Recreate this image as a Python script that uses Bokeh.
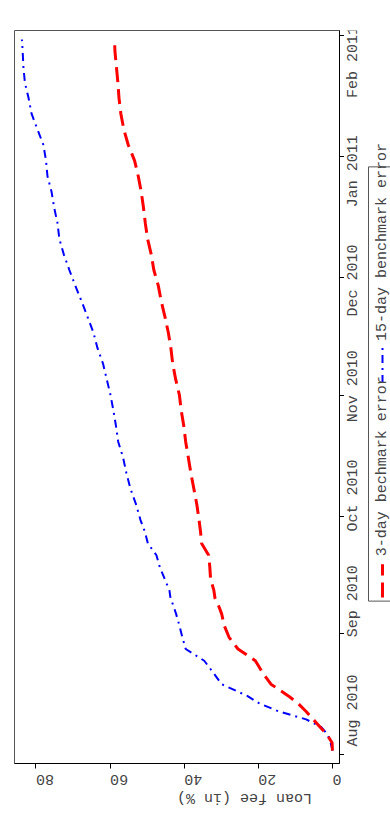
import math
import pandas as pd
from bokeh.plotting import figure
from bokeh.layouts import row
from bokeh.models import (Range1d, FixedTicker, ColumnDataSource, Label,
                          CustomJSTickFormatter)
from bokeh.core.properties import value
from bokeh.embed import file_html
from bokeh.resources import INLINE

# ---------------- data ----------------
dates = [
    "2010-08-02", "2010-08-04", "2010-08-06", "2010-08-08", "2010-08-10", "2010-08-12",
    "2010-08-14", "2010-08-16", "2010-08-19", "2010-08-22", "2010-08-25", "2010-08-28",
    "2010-08-31", "2010-09-03", "2010-09-06", "2010-09-08", "2010-09-10", "2010-09-12",
    "2010-09-15", "2010-09-18", "2010-09-21", "2010-09-24", "2010-09-27", "2010-09-30",
    "2010-10-04", "2010-10-08", "2010-10-12", "2010-10-16", "2010-10-20", "2010-10-24",
    "2010-10-28", "2010-11-01", "2010-11-05", "2010-11-09", "2010-11-13", "2010-11-17",
    "2010-11-21", "2010-11-25", "2010-11-29", "2010-12-03", "2010-12-07", "2010-12-11",
    "2010-12-15", "2010-12-19", "2010-12-23", "2010-12-27", "2010-12-31", "2011-01-04",
    "2011-01-08", "2011-01-12", "2011-01-16", "2011-01-20", "2011-01-24", "2011-01-28",
    "2011-01-31",
]
fee_3day = [
    0.0, 0.1, 1.4, 3.3, 5.2, 7.1, 9.2, 11.9, 16.6, 18.9, 20.8, 25.5,
    27.9, 29.2, 29.9, 30.7, 31.7, 32.0, 32.9, 33.1, 33.4, 35.3, 35.6, 36.0,
    36.6, 37.4, 38.2, 38.9, 39.6, 40.1, 40.8, 41.3, 42.3, 43.1, 43.6, 44.3,
    45.2, 46.2, 47.0, 48.2, 48.9, 49.9, 50.5, 51.0, 51.6, 52.4, 53.4, 55.1,
    56.3, 57.1, 57.6, 57.9, 58.3, 58.7, 58.8,
]
fee_15day = [
    0.0, 0.5, 1.2, 3.0, 7.1, 14.4, 19.6, 23.0, 29.9, 32.2, 34.6, 39.6,
    40.5, 41.3, 42.2, 42.9, 43.7, 44.0, 45.3, 46.6, 47.5, 49.8, 50.6, 51.8,
    53.0, 54.5, 55.6, 56.5, 57.8, 58.4, 59.1, 59.9, 60.9, 61.9, 63.4, 64.5,
    66.1, 67.7, 69.4, 71.0, 72.5, 73.7, 74.2, 75.1, 75.8, 76.9, 77.3, 78.0,
    79.6, 81.2, 82.0, 83.0, 83.4, 83.6, 83.8,
]
fee_ticks = [0, 20, 40, 60, 80]
month_ticks = ["2010-08-01", "2010-09-01", "2010-10-01", "2010-11-01",
               "2010-12-01", "2011-01-01", "2011-02-01"]
month_labels = ["Aug 2010", "Sep 2010", "Oct 2010", "Nov 2010",
                "Dec 2010", "Jan 2011", "Feb 2011"]
series_labels = ["3-day bechmark error", "15-day benchmark error"]
axis_title = "Loan fee (in %)"

# ---------------- styles / layout ----------------
FONT = "Liberation Mono"
TXT = "#444444"
RED = "#ff0000"
BLUE = "#0000ff"
RED_DASH = "15 7"
BLUE_DASH = "8 5 2 5"
H = 817
TOP, BOTTOM = 30, 50
FRAME_H = H - TOP - BOTTOM
MAIN_W, STRIP_W = 344, 46

src = ColumnDataSource(dict(
    date=pd.to_datetime(dates),
    f3=fee_3day,
    f15=fee_15day,
))

t0 = pd.Timestamp(month_ticks[0])
y_start_ms = (t0 - pd.Timedelta(days=2.3)).value / 1e6
y_end_ms = (t0 + pd.Timedelta(days=185.3)).value / 1e6
month_ms = [pd.Timestamp(s).value / 1e6 for s in month_ticks]

p = figure(width=MAIN_W, height=H, output_backend="svg", toolbar_location=None,
           x_range=Range1d(85.8, -1.9), y_range=Range1d(y_start_ms, y_end_ms),
           y_axis_location="right", x_axis_location="below",
           min_border_left=14, min_border_right=5, min_border_top=TOP,
           min_border_bottom=BOTTOM)
p.grid.visible = False
p.outline_line_color = "#555555"
p.outline_line_width = 1
p.background_fill_color = "white"
p.border_fill_color = "white"

p.line("f15", "date", source=src, line_color=BLUE, line_width=2, line_dash=BLUE_DASH)
p.line("f3", "date", source=src, line_color=RED, line_width=3, line_dash=RED_DASH)

# bottom axis (loan fee), labels upside down
xa = p.xaxis[0]
xa.ticker = FixedTicker(ticks=fee_ticks)
xa.major_label_orientation = math.pi
xa.minor_tick_line_color = None
xa.major_tick_out = 5
xa.major_tick_in = 0
xa.major_label_standoff = 11
xa.axis_line_color = "black"
xa.major_tick_line_color = "black"
xa.major_label_text_font = FONT
xa.major_label_text_font_size = "15px"
xa.major_label_text_color = TXT

if "axis_label_orientation" in xa.properties():
    xa.axis_label = axis_title
    xa.axis_label_orientation = math.pi
    xa.axis_label_standoff = 5
    xa.axis_label_text_font = FONT
    xa.axis_label_text_font_size = "15px"
    xa.axis_label_text_font_style = "normal"
    xa.axis_label_text_color = TXT
else:
    p.add_layout(Label(x=42, y=-36, x_units="data", y_units="screen", text=axis_title,
                       angle=math.pi, text_align="center", text_baseline="middle",
                       text_font=FONT, text_font_size="15px", text_color=TXT))

# right axis (dates): tick marks only; month labels are drawn in the strip
ya = p.yaxis[0]
ya.ticker = FixedTicker(ticks=month_ms)
ya.formatter = CustomJSTickFormatter(code="return ''")
ya.major_label_orientation = "horizontal"
ya.major_label_standoff = 0
ya.minor_tick_line_color = None
ya.major_tick_out = 5
ya.major_tick_in = 0
ya.axis_line_color = "black"
ya.major_tick_line_color = "black"

# ---------------- right strip: rotated month labels + rotated legend ----------------
per_px = (y_end_ms - y_start_ms) / FRAME_H
strip = figure(width=STRIP_W, height=H, output_backend="svg", toolbar_location=None,
               x_range=Range1d(MAIN_W, MAIN_W + STRIP_W),
               y_range=Range1d(y_start_ms - BOTTOM * per_px, y_end_ms + TOP * per_px),
               x_axis_location=None, y_axis_location=None, min_border=0)
strip.extra_y_ranges = {"px": Range1d(H, 0)}
strip.grid.visible = False
strip.outline_line_color = None
strip.background_fill_color = "white"
strip.border_fill_color = "white"

# month labels, centred on the date ticks (same date scale as the main plot)
strip.text(x=[353] * len(month_ms), y=month_ms, text=month_labels, angle=math.pi / 2,
           text_font=value(FONT), text_font_size="15px", text_color=TXT,
           text_align="center", text_baseline="middle")

# legend (cut off at the right edge, as in the reference)
strip.quad(left=[368], right=[400], top=[152], bottom=[636], fill_color=None,
           line_color="#555555", line_width=1, y_range_name="px")
strip.line([382, 382], [632, 595], line_color=RED, line_width=3, line_dash=RED_DASH,
           y_range_name="px")
strip.line([382, 382], [393, 352], line_color=BLUE, line_width=2, line_dash=BLUE_DASH,
           y_range_name="px")
strip.text(x=[382, 382], y=[586, 346], text=series_labels, angle=math.pi / 2,
           text_font=value(FONT), text_font_size="15px", text_color=TXT,
           text_align="left", text_baseline="middle", y_range_name="px")

layout = row(p, strip, spacing=0)
open("out.html", "w").write(file_html(layout, INLINE))
